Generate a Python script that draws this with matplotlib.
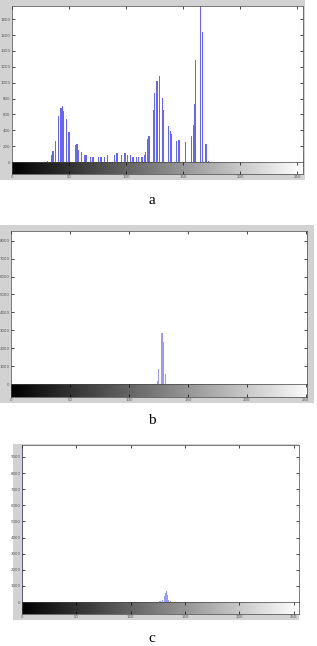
import numpy as np
import matplotlib
matplotlib.use("Agg")
import matplotlib.pyplot as plt
from matplotlib.patches import Rectangle

W, H = 317, 646

# -------------------------
# DATA
# -------------------------
bins_a = [31, 35, 36, 38, 41, 43, 44, 45, 48, 50, 56, 57, 58, 61, 64, 65, 69, 71,
          76, 78, 81, 84, 90, 92, 96, 99, 101, 104, 106, 109, 111, 114, 116, 117,
          119, 120, 124, 125, 127, 129, 132, 133, 137, 139, 140, 144, 146, 147,
          152, 157, 159, 160, 161, 165, 167, 170, 172]
counts_a = [17, 88, 134, 268, 583, 675, 700, 637, 541, 377, 210, 226, 155, 126, 88, 88,
            63, 63, 63, 63, 63, 84, 84, 113, 92, 109, 88, 88, 67, 59, 59, 59, 92, 126,
            289, 331, 658, 868, 1015, 1086, 805, 658, 449, 394, 352, 260, 273, 273,
            252, 331, 461, 725, 1287, 2100, 1644, 226, 13]

bins_b = [124, 125, 128, 129, 131]
counts_b = [190, 830, 2870, 2360, 585]

bins_c = [0, 127, 129, 131, 132, 133, 134, 135, 137]
counts_c = [12000, 60, 145, 350, 560, 700, 450, 145, 80]

xticks = [0, 50, 100, 150, 200, 250]
yticks_a = list(range(0, 1801, 200))
yticks_b = list(range(0, 8001, 1000))
yticks_c = list(range(0, 9001, 1000))
xmax = [255, 251, 255]
ymax = [1966, 8540, 9740]
panel_labels = ["a", "b", "c"]


def px_rect(left, top, right, bottom):
    return [left / W, 1 - bottom / H, (right - left) / W, (bottom - top) / H]


fig = plt.figure(figsize=(W / 100, H / 100), dpi=100)

# -------------------------
# PANEL LAYOUT (pixels: frame, hist axes, colorbar bottom, label y)
# -------------------------
panels = [
    dict(frame=(0, 0, 305, 180), ax=(12, 6, 303, 162), cb=174, lab=200,
         bins=bins_a, counts=counts_a, yt=yticks_a, color="#6666f0"),
    dict(frame=(0, 225, 314, 403), ax=(11, 231, 307, 384), cb=397, lab=420,
         bins=bins_b, counts=counts_b, yt=yticks_b, color="#9a9af6"),
    dict(frame=(13, 444, 299, 620), ax=(22, 445, 299, 602), cb=614, lab=639,
         bins=bins_c, counts=counts_c, yt=yticks_c, color="#9a9af6"),
]

for i, p in enumerate(panels):
    fl, ft, fr, fb = p["frame"]
    fig.patches.append(Rectangle((fl / W, 1 - fb / H), (fr - fl) / W, (fb - ft) / H,
                                 transform=fig.transFigure, facecolor="#d2d2d2",
                                 edgecolor="none", zorder=-10))

    l, t, r, b = p["ax"]
    ax = fig.add_axes(px_rect(l, t, r, b), zorder=2)
    ax.set_facecolor("white")
    ax.bar(p["bins"], p["counts"], width=1.1, color=p["color"], linewidth=0)
    ax.set_xlim(0, xmax[i])
    ax.set_ylim(0, ymax[i])
    ax.set_xticks(xticks)
    ax.set_xticklabels([])
    ax.set_yticks(p["yt"])
    ax.set_yticklabels([str(v) for v in p["yt"]], fontsize=2.8, color="#555555")
    ax.tick_params(direction="in", length=2, width=0.5, pad=1,
                   top=True, right=True, bottom=False)
    for s in ax.spines.values():
        s.set_linewidth(0.5)
        s.set_color("#444444")

    cax = fig.add_axes(px_rect(l, b, r, p["cb"]), zorder=2)
    grad = np.arange(256).reshape(1, -1)
    cax.imshow(grad, cmap="gray", aspect="auto", extent=[0, 255, 0, 1], vmin=0, vmax=255)
    cax.set_xlim(0, xmax[i])
    cax.set_yticks([])
    cax.set_xticks(xticks)
    cax.set_xticklabels([str(v) for v in xticks], fontsize=2.8, color="#555555")
    cax.tick_params(direction="in", length=2, width=0.5, pad=1, top=True)
    for s in cax.spines.values():
        s.set_linewidth(0.5)
        s.set_color("#444444")

    fig.text(152 / W, 1 - p["lab"] / H, panel_labels[i], ha="center", va="center",
             fontsize=11, family="Liberation Serif")

fig.savefig("out.png", dpi=100, facecolor="white")
